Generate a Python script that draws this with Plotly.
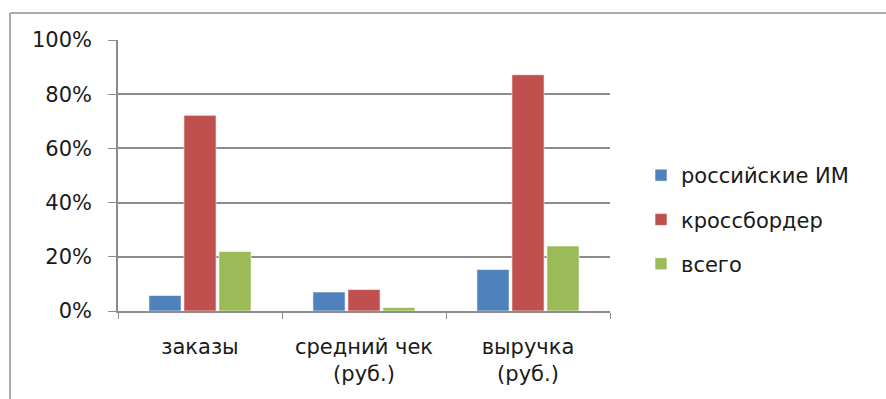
import plotly.graph_objects as go

categories = ["заказы", "средний чек<br>(руб.)", "выручка<br>(руб.)"]
series_names = ["российские ИМ", "кроссбордер", "всего"]
russian_shops = [0.057, 0.070, 0.153]
crossborder = [0.722, 0.079, 0.872]
total = [0.220, 0.013, 0.240]
colors = ["#4F81BD", "#C0504D", "#9BBB59"]
y_ticks = [0, 0.2, 0.4, 0.6, 0.8, 1.0]

W, H = 886, 399
L, R, T, B = 118, 610, 40, 311  # plot area in pixels

fig = go.Figure()
for name, vals, col in zip(series_names, [russian_shops, crossborder, total], colors):
    fig.add_trace(go.Bar(
        x=categories, y=vals, name=name, legendgroup=name,
        marker=dict(color=col, line=dict(color="rgba(255,255,255,0.6)", width=1)),
    ))

pw, ph = R - L, B - T
def px(x):
    return (x - L) / pw
def py(y):
    return (B - y) / ph

# outer frame: top and left edges
frame = dict(type="line", xref="paper", yref="paper",
             line=dict(color="#ababab", width=2))
fig.add_shape(**frame, x0=px(10), y0=py(13), x1=px(W + 5), y1=py(13))
fig.add_shape(**frame, x0=px(10), y0=py(13), x1=px(10), y1=py(H + 5))

font = dict(family="DejaVu Sans", size=21, color="#1a1a1a")
fig.update_layout(
    width=W, height=H,
    margin=dict(l=L, r=W - R, t=T, b=H - B, autoexpand=False),
    paper_bgcolor="white", plot_bgcolor="white",
    font=font,
    barmode="group", bargap=0.36, bargroupgap=0.08,
    showlegend=True,
    legend=dict(x=px(641), y=py(155), xanchor="left", yanchor="top",
                font=font, tracegroupgap=14, itemwidth=30,
                bgcolor="rgba(0,0,0,0)"),
    xaxis=dict(showline=True, linecolor="#8c8c8c", linewidth=1.5,
               ticks="outside", tickson="boundaries", ticklen=6,
               tickcolor="#8c8c8c", ticklabelstandoff=16),
    yaxis=dict(range=[0, 1], tickvals=y_ticks, tickformat=".0%",
               showline=True, linecolor="#8c8c8c", linewidth=1.5,
               ticks="outside", ticklen=8, tickcolor="#8c8c8c",
               showgrid=True, gridcolor="#8c8c8c", gridwidth=1.5,
               zeroline=False, ticklabelstandoff=12),
)

fig.write_html("out.html")
